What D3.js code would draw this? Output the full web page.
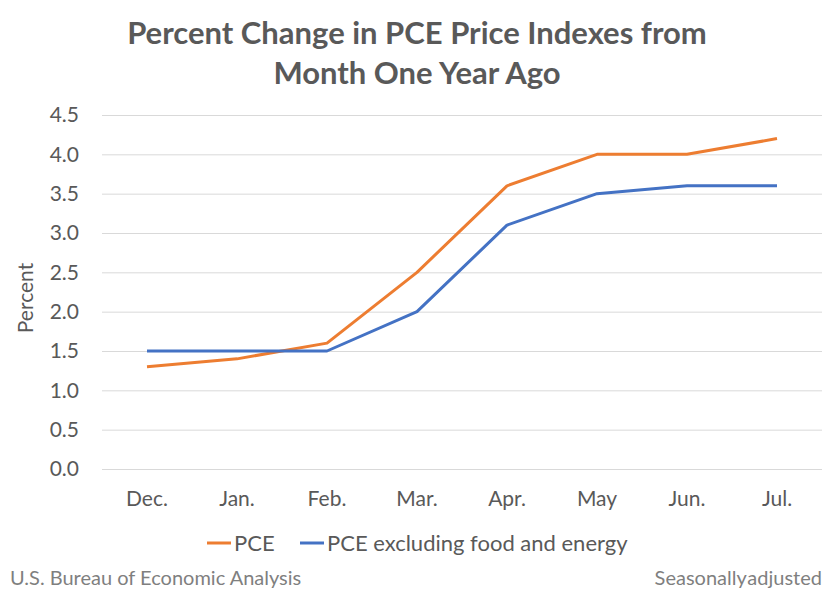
<!DOCTYPE html>
<html>
<head>
<meta charset="utf-8">
<script src="https://cdn.jsdelivr.net/npm/d3@7"></script>
<style>
  body { margin: 0; background: #fff; }
  text { font-family: Lato, "Open Sans", sans-serif; }
</style>
</head>
<body>
<div id="app"></div>
<script>
const WIDTH = 834
const HEIGHT = 605

const months = ['Dec.', 'Jan.', 'Feb.', 'Mar.', 'Apr.', 'May', 'Jun.', 'Jul.']
const pce = [1.3, 1.4, 1.6, 2.5, 3.6, 4.0, 4.0, 4.2]
const pceCore = [1.5, 1.5, 1.5, 2.0, 3.1, 3.5, 3.6, 3.6]
const yTicks = [0, 0.5, 1, 1.5, 2, 2.5, 3, 3.5, 4, 4.5]

const series = [
  { name: 'PCE', values: pce, color: '#ED7D31' },
  { name: 'PCE excluding food and energy', values: pceCore, color: '#4472C4' }
]

const x = d3.scaleBand().domain(months).range([102, 822])
const y = d3.scaleLinear().domain([0, 4.5]).range([469, 115])

const svg = d3.select('#app').append('svg')
  .attr('width', WIDTH)
  .attr('height', HEIGHT)

// title
svg.append('text')
  .attr('text-anchor', 'middle')
  .attr('font-weight', 'bold')
  .attr('font-size', 31)
  .attr('fill', '#595959')
  .selectAll('tspan')
  .data(['Percent Change in PCE Price Indexes from', 'Month One Year Ago'])
  .enter()
.append('tspan')
  .attr('x', 417)
  .attr('y', (d, i) => 44 + i * 40)
  .text(d => d)

// gridlines + y labels
const yAxis = svg.append('g')
  .attr('transform', 'translate(102,0)')
  .call(d3.axisLeft(y).tickValues(yTicks).tickFormat(d3.format('.1f')).tickSize(-720).tickPadding(23))
yAxis.select('.domain').remove()
yAxis.selectAll('line').attr('stroke', '#d9d9d9').attr('stroke-width', 1)
yAxis.selectAll('text')
  .attr('font-size', 21)
  .attr('fill', '#595959')
  .style('font-family', 'Lato, sans-serif')

// x labels
const xAxis = svg.append('g')
  .attr('transform', 'translate(0,469)')
  .call(d3.axisBottom(x).tickSize(0).tickPadding(22))
xAxis.select('.domain').remove()
xAxis.selectAll('text')
  .attr('font-size', 21)
  .attr('fill', '#595959')
  .style('font-family', 'Lato, sans-serif')

// axis title
svg.append('text')
  .attr('transform', 'translate(33,298) rotate(-90)')
  .attr('text-anchor', 'middle')
  .attr('font-size', 21)
  .attr('fill', '#595959')
  .text('Percent')

const line = d3.line()
  .x((d, i) => x(months[i]) + x.bandwidth() / 2)
  .y(d => y(d))

svg.selectAll('path.series')
  .data(series)
  .enter()
.append('path')
  .attr('class', 'series')
  .attr('d', d => line(d.values))
  .attr('fill', 'none')
  .attr('stroke', d => d.color)
  .attr('stroke-width', 3)
  .attr('stroke-linejoin', 'round')

// legend
const legend = svg.selectAll('g.legend')
  .data(series)
  .enter()
.append('g')
  .attr('class', 'legend')
  .attr('transform', (d, i) => `translate(${[207, 300][i]}, 543)`)
legend.append('line')
  .attr('x2', 24)
  .attr('stroke', d => d.color)
  .attr('stroke-width', 3)
legend.append('text')
  .attr('x', 27)
  .attr('dy', '0.35em')
  .attr('font-size', 22)
  .attr('fill', '#595959')
  .text(d => d.name)

// footer
svg.append('text')
  .attr('x', 10)
  .attr('y', 585)
  .attr('font-size', 20)
  .attr('fill', '#7f7f7f')
  .text('U.S. Bureau of Economic Analysis')
svg.append('text')
  .attr('x', 822)
  .attr('y', 585)
  .attr('text-anchor', 'end')
  .attr('font-size', 20)
  .attr('fill', '#7f7f7f')
  .attr('word-spacing', -4)
  .text('Seasonally adjusted')
</script>
</body>
</html>
